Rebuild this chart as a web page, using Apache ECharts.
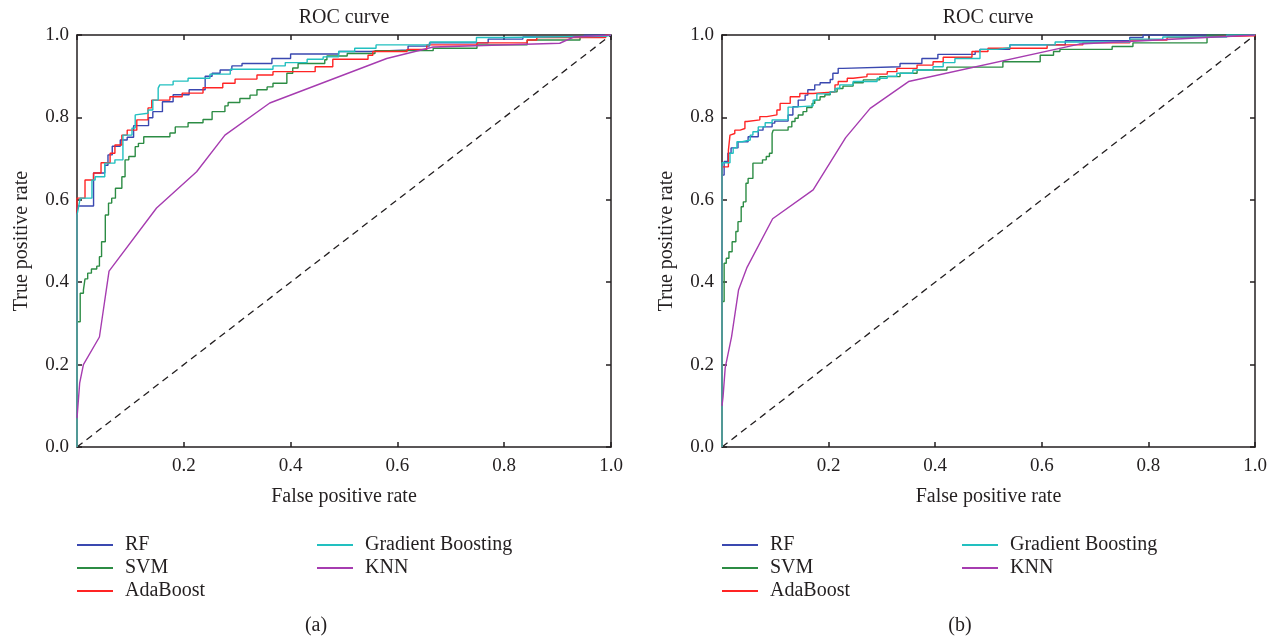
<!DOCTYPE html>
<html>
<head>
<meta charset="utf-8">
<script src="https://cdn.jsdelivr.net/npm/echarts@6/dist/echarts.min.js"></script>
<style>
  html, body { margin: 0; padding: 0; background: #fff; }
  #chart { width: 1277px; height: 639px; }
</style>
</head>
<body>
<div id="chart"></div>
<script>
// ROC points as [false positive rate, true positive rate]; steps run horizontally then up
const rfA = [[0,0],[0,0.585],[0.031,0.665],[0.052,0.684],[0.058,0.709],[0.066,0.73],[0.081,0.745],[0.094,0.752],[0.106,0.78],[0.134,0.799],[0.142,0.814],[0.16,0.838],[0.18,0.855],[0.21,0.867],[0.24,0.9],[0.253,0.907],[0.268,0.915],[0.29,0.925],[0.309,0.931],[0.365,0.943],[0.4,0.954],[0.49,0.96],[0.55,0.964],[0.62,0.973],[0.66,0.981],[0.77,0.99],[0.835,0.995],[0.95,1],[1,1]];
const svmA = [[0,0],[0,0.304],[0.006,0.373],[0.012,0.381],[0.015,0.408],[0.02,0.422],[0.027,0.432],[0.037,0.439],[0.042,0.462],[0.046,0.498],[0.053,0.563],[0.059,0.592],[0.065,0.604],[0.072,0.628],[0.084,0.656],[0.09,0.697],[0.097,0.705],[0.109,0.729],[0.115,0.737],[0.125,0.753],[0.174,0.762],[0.184,0.777],[0.208,0.787],[0.236,0.795],[0.253,0.814],[0.277,0.828],[0.283,0.836],[0.305,0.846],[0.324,0.854],[0.337,0.867],[0.356,0.874],[0.367,0.883],[0.393,0.907],[0.404,0.92],[0.414,0.931],[0.464,0.94],[0.468,0.949],[0.506,0.955],[0.558,0.962],[0.667,0.968],[0.749,0.976],[0.843,0.988],[0.942,0.995],[0.99,1],[1,1]];
const adaA = [[0,0],[0,0.604],[0.015,0.648],[0.031,0.665],[0.045,0.69],[0.062,0.713],[0.071,0.733],[0.084,0.757],[0.094,0.769],[0.112,0.794],[0.133,0.823],[0.14,0.842],[0.174,0.85],[0.197,0.859],[0.236,0.872],[0.273,0.883],[0.296,0.893],[0.337,0.903],[0.367,0.911],[0.446,0.923],[0.479,0.941],[0.545,0.951],[0.554,0.96],[0.618,0.965],[0.655,0.976],[0.749,0.981],[0.843,0.988],[0.861,0.994],[0.99,1],[1,1]];
const gbA = [[0,0],[0,0.563],[0.003,0.583],[0.006,0.604],[0.028,0.648],[0.034,0.656],[0.052,0.689],[0.071,0.697],[0.086,0.757],[0.103,0.774],[0.109,0.806],[0.112,0.81],[0.133,0.818],[0.142,0.842],[0.152,0.871],[0.155,0.879],[0.18,0.888],[0.208,0.895],[0.249,0.905],[0.287,0.917],[0.367,0.925],[0.39,0.933],[0.431,0.941],[0.461,0.947],[0.49,0.96],[0.52,0.968],[0.56,0.976],[0.661,0.983],[0.748,0.994],[0.8,0.997],[0.99,1],[1,1]];
const knnA = [[0,0.07],[0.005,0.155],[0.012,0.2],[0.042,0.267],[0.06,0.427],[0.149,0.58],[0.224,0.668],[0.277,0.757],[0.361,0.835],[0.58,0.943],[0.667,0.971],[0.904,0.98],[0.93,0.995],[1,1]];

const rfB = [[0,0],[0,0.66],[0.004,0.693],[0.011,0.713],[0.017,0.726],[0.03,0.741],[0.049,0.753],[0.068,0.769],[0.077,0.777],[0.094,0.786],[0.099,0.791],[0.124,0.806],[0.133,0.826],[0.143,0.842],[0.156,0.854],[0.161,0.867],[0.174,0.879],[0.184,0.884],[0.203,0.892],[0.208,0.907],[0.218,0.919],[0.227,0.923],[0.334,0.931],[0.375,0.943],[0.405,0.953],[0.475,0.96],[0.484,0.965],[0.54,0.976],[0.644,0.986],[0.765,0.994],[0.79,1],[1,1]];
const svmB = [[0,0],[0,0.353],[0.004,0.446],[0.008,0.458],[0.013,0.474],[0.019,0.498],[0.026,0.523],[0.03,0.547],[0.036,0.583],[0.04,0.595],[0.045,0.64],[0.049,0.652],[0.058,0.689],[0.076,0.697],[0.083,0.705],[0.089,0.713],[0.094,0.761],[0.096,0.769],[0.124,0.777],[0.131,0.79],[0.137,0.798],[0.143,0.806],[0.152,0.814],[0.159,0.824],[0.169,0.834],[0.174,0.842],[0.184,0.85],[0.193,0.855],[0.203,0.862],[0.216,0.87],[0.227,0.876],[0.246,0.884],[0.265,0.891],[0.296,0.899],[0.334,0.907],[0.366,0.915],[0.422,0.922],[0.527,0.935],[0.597,0.951],[0.622,0.96],[0.634,0.965],[0.732,0.972],[0.771,0.981],[0.91,1],[1,1]];
const adaB = [[0,0],[0,0.68],[0.012,0.72],[0.015,0.757],[0.017,0.761],[0.024,0.769],[0.034,0.773],[0.043,0.79],[0.047,0.794],[0.071,0.802],[0.084,0.806],[0.103,0.818],[0.109,0.834],[0.128,0.85],[0.146,0.858],[0.171,0.862],[0.212,0.879],[0.218,0.887],[0.235,0.895],[0.246,0.899],[0.272,0.905],[0.31,0.911],[0.328,0.919],[0.366,0.927],[0.396,0.935],[0.415,0.946],[0.469,0.96],[0.499,0.968],[0.61,0.976],[0.677,0.981],[0.765,0.988],[0.835,0.994],[0.855,0.998],[1,1]];
const gbB = [[0,0],[0,0.69],[0.015,0.713],[0.021,0.726],[0.028,0.741],[0.038,0.745],[0.053,0.757],[0.058,0.765],[0.068,0.777],[0.081,0.787],[0.094,0.794],[0.124,0.825],[0.133,0.828],[0.171,0.842],[0.178,0.857],[0.203,0.862],[0.212,0.87],[0.221,0.879],[0.246,0.887],[0.291,0.895],[0.31,0.9],[0.328,0.907],[0.358,0.915],[0.396,0.923],[0.415,0.933],[0.437,0.943],[0.484,0.965],[0.516,0.969],[0.54,0.976],[0.625,0.983],[0.765,0.99],[0.827,0.995],[0.947,1],[1,1]];
const knnB = [[0,0.1],[0.002,0.122],[0.006,0.192],[0.018,0.268],[0.031,0.381],[0.047,0.436],[0.095,0.554],[0.171,0.624],[0.232,0.751],[0.278,0.822],[0.35,0.887],[0.67,0.978],[1,1]];

const chance = [[0,0],[1,1]];
const names = ['RF', 'SVM', 'AdaBoost', 'Gradient Boosting', 'KNN'];
const colors = ['#3a48b0', '#2c8c44', '#ff2424', '#22c0c0', '#a63cb0'];
const panelLabels = ['(a)', '(b)'];

const FONT = '"Liberation Serif", "DejaVu Serif", serif';
const TXT = '#231f20';

const panels = [
  { left: 77, right: 666, cx: 344, curves: [rfA, svmA, adaA, gbA, knnA] },
  { left: 722, right: 22, cx: 988, curves: [rfB, svmB, adaB, gbB, knnB] }
];

const chart = echarts.init(document.getElementById('chart'), null, { renderer: 'canvas' });

const grid = [];
const xAxis = [];
const yAxis = [];
const series = [];
const legend = [];
const graphic = [];

const axisBase = (extra) => Object.assign({
  type: 'value',
  min: 0,
  max: 1,
  interval: 0.2,
  splitLine: { show: false },
  axisLine: { show: true, onZero: false, lineStyle: { color: TXT, width: 1.5 } },
  axisTick: { show: true, inside: true, length: 5, lineStyle: { color: TXT, width: 1.5 } }
}, extra);

panels.forEach((p, i) => {
  grid.push({ left: p.left, right: p.right, top: 35, bottom: 192 });

  xAxis.push(axisBase({
    gridIndex: i,
    position: 'bottom',
    name: 'False positive rate',
    nameLocation: 'middle',
    nameGap: 40,
    nameTextStyle: { fontFamily: FONT, fontSize: 20, color: TXT },
    axisLabel: {
      margin: 10,
      fontFamily: FONT, fontSize: 19, color: TXT,
      formatter: (v) => (v === 0 ? '' : v.toFixed(1))
    }
  }));
  xAxis.push(axisBase({ gridIndex: i, position: 'top', axisLabel: { show: false } }));

  yAxis.push(axisBase({
    gridIndex: i,
    position: 'left',
    name: 'True positive rate',
    nameLocation: 'middle',
    nameGap: 45,
    nameTextStyle: { fontFamily: FONT, fontSize: 20, color: TXT },
    axisLabel: {
      margin: 8,
      fontFamily: FONT, fontSize: 19, color: TXT,
      formatter: (v) => v.toFixed(1)
    }
  }));
  yAxis.push(axisBase({ gridIndex: i, position: 'right', axisLabel: { show: false } }));

  series.push({
    type: 'line',
    xAxisIndex: i * 2,
    yAxisIndex: i * 2,
    data: chance,
    symbol: 'none',
    silent: true,
    lineStyle: { color: TXT, width: 1.3, type: [7, 5] }
  });

  p.curves.forEach((d, k) => {
    series.push({
      name: names[k],
      type: 'line',
      xAxisIndex: i * 2,
      yAxisIndex: i * 2,
      data: d,
      step: k === 4 ? false : 'end',
      symbol: 'none',
      color: colors[k],
      lineStyle: { color: colors[k], width: 1.4 }
    });
  });

  const legendBase = {
    orient: 'vertical',
    top: 535,
    padding: 0,
    icon: 'rect',
    itemWidth: 36,
    itemHeight: 2,
    itemGap: 3,
    selectedMode: false,
    textStyle: { fontFamily: FONT, fontSize: 20, color: TXT, padding: [0, 0, 0, 7] }
  };
  legend.push(Object.assign({}, legendBase, { left: p.left, data: names.slice(0, 3) }));
  legend.push(Object.assign({}, legendBase, { left: p.left + 240, data: names.slice(3) }));

  graphic.push({
    type: 'text', x: p.cx, y: 18,
    style: { text: 'ROC curve', font: '20px ' + FONT, fill: TXT, textAlign: 'center', textVerticalAlign: 'middle' }
  });
  graphic.push({
    type: 'text', x: p.cx - 28, y: 626,
    style: { text: panelLabels[i], font: '20px ' + FONT, fill: TXT, textAlign: 'center', textVerticalAlign: 'middle' }
  });
});

chart.setOption({
  animation: false,
  backgroundColor: '#fff',
  grid,
  xAxis,
  yAxis,
  legend,
  graphic,
  series
});
</script>
</body>
</html>
